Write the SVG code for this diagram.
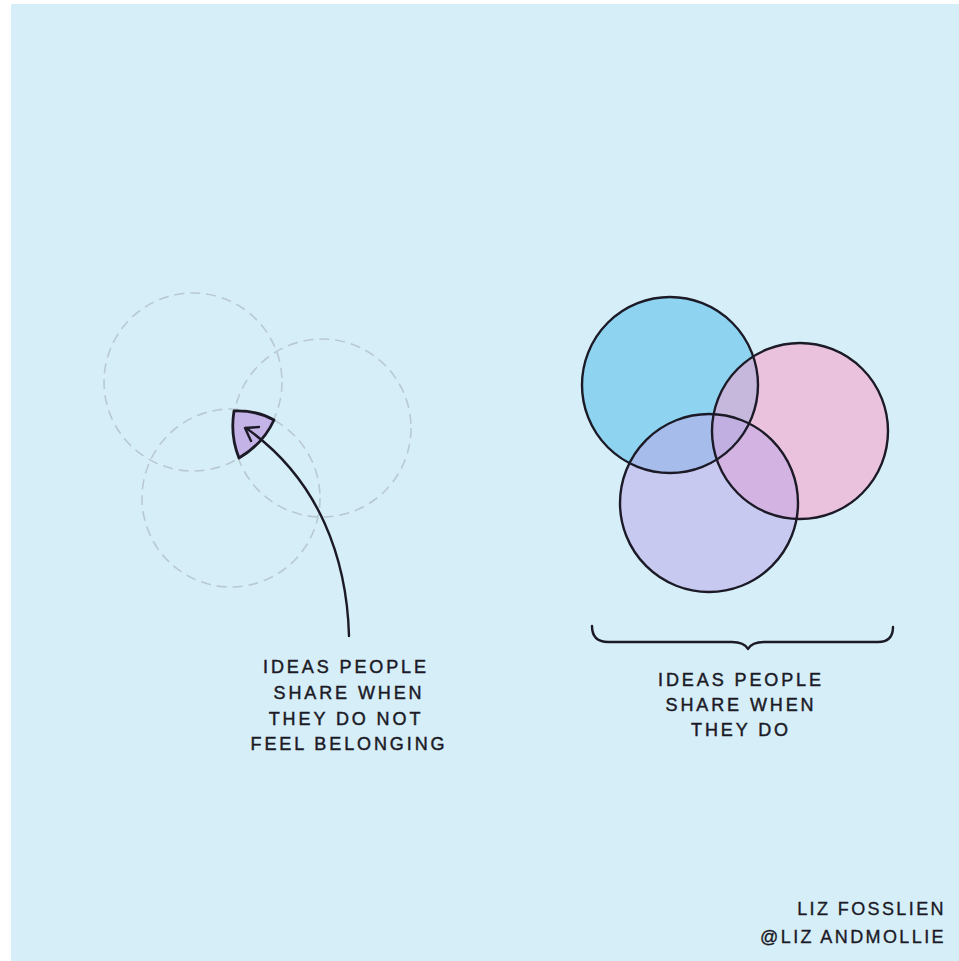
<svg xmlns="http://www.w3.org/2000/svg" width="959" height="961" viewBox="0 0 959 961">
<defs>
<style>
.bg{fill:#d6eef8}
.dash{fill:none;stroke:#b9c9d2;stroke-width:1.6;stroke-dasharray:10 6}
.ink{fill:none;stroke:#1b1a26;stroke-width:2.4;stroke-linecap:round;stroke-linejoin:round}
.lbl{font-family:"Liberation Sans","DejaVu Sans",sans-serif;font-size:18px;fill:#1b1a26;stroke:#1b1a26;stroke-width:0.45;letter-spacing:2.9px;text-anchor:middle}
.sig{font-family:"Liberation Sans","DejaVu Sans",sans-serif;font-size:18px;fill:#1b1a26;stroke:#1b1a26;stroke-width:0.35;letter-spacing:2.4px;text-anchor:end}
</style>
<clipPath id="cB"><circle cx="670" cy="385" r="88"/></clipPath>
<clipPath id="cP"><circle cx="800" cy="431" r="88"/></clipPath>
<clipPath id="cL"><circle cx="709" cy="503" r="89"/></clipPath>
</defs>
<rect x="0" y="0" width="959" height="961" fill="#ffffff"/>
<rect class="bg" x="11" y="4" width="948" height="957"/>

<g id="left-venn">
<circle class="dash" cx="193" cy="382" r="89"/>
<circle class="dash" cx="322" cy="428" r="89"/>
<circle class="dash" cx="231" cy="498" r="89"/>
</g>

<g id="small-overlap">
<path d="M234 411 Q256 410 274 420 Q263 444 239 458 Q230 436 234 411 Z" fill="#c3b3e6" stroke="#1b1a26" stroke-width="2.8" stroke-linejoin="round"/>
</g>

<g id="connectors">
<path class="ink" d="M349 636 C347 560 320 480 246 428"/>
<path class="ink" d="M251 441 L245 428 L259 427"/>
<path class="ink" d="M592 626 Q592 642 608 642 L732 642 Q744 642 748 649 Q752 642 764 642 L878 642 Q893 642 893 627"/>
</g>

<g id="right-venn">
<circle cx="670" cy="385" r="88" fill="#8ed4f0"/>
<circle cx="800" cy="431" r="88" fill="#eac2de"/>
<circle cx="709" cy="503" r="89" fill="#c8c9f0"/>
<g clip-path="url(#cB)"><circle cx="800" cy="431" r="88" fill="#c6b8dc"/><circle cx="709" cy="503" r="89" fill="#a6bcea"/></g>
<g clip-path="url(#cP)"><circle cx="709" cy="503" r="89" fill="#d3b3e1"/></g>
<g clip-path="url(#cP)"><g clip-path="url(#cB)"><circle cx="709" cy="503" r="89" fill="#c0afe0"/></g></g>
<circle class="ink" cx="670" cy="385" r="88"/>
<circle class="ink" cx="800" cy="431" r="88"/>
<circle class="ink" cx="709" cy="503" r="89"/>
</g>

<g id="label-left">
<text class="lbl" x="346" y="673">IDEAS PEOPLE</text>
<text class="lbl" x="349" y="699">SHARE WHEN</text>
<text class="lbl" x="346" y="725">THEY DO NOT</text>
<text class="lbl" x="349" y="750">FEEL BELONGING</text>
</g>

<g id="label-right">
<text class="lbl" x="741" y="686">IDEAS PEOPLE</text>
<text class="lbl" x="741" y="711">SHARE WHEN</text>
<text class="lbl" x="741" y="736">THEY DO</text>
</g>

<g id="signature">
<text class="sig" x="946" y="915">LIZ FOSSLIEN</text>
<text class="sig" x="946" y="943">@LIZ ANDMOLLIE</text>
</g>
</svg>
